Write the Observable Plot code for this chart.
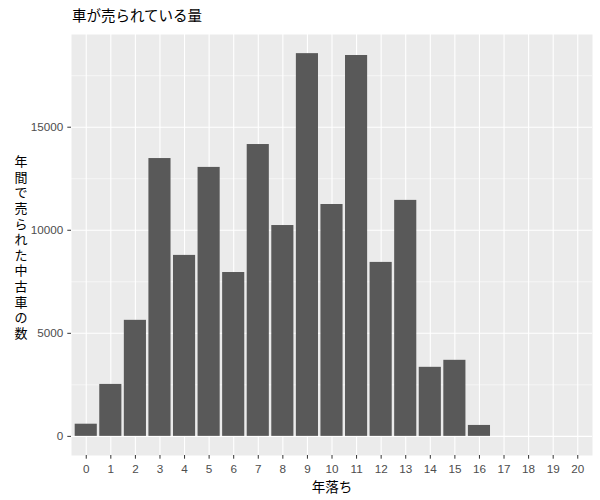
<!DOCTYPE html>
<html>
<head>
<meta charset="utf-8">
<script src="https://cdn.jsdelivr.net/npm/d3@7"></script>
<script src="https://cdn.jsdelivr.net/npm/@observablehq/plot@0.6"></script>
<style>
  body { margin: 0; background: #fff; }
  #title { height: 28px; box-sizing: border-box; padding: 6px 0 0 72px; font: 14.5px "Noto Sans CJK JP", sans-serif; line-height: 18px; color: #000; }
</style>
</head>
<body>
<div id="title"></div>
<div id="chart"></div>
<script>
const titleText = "車が売られている量";
const xLabel = "年落ち";
const yLabel = "年\n間\nで\n売\nら\nれ\nた\n中\n古\n車\nの\n数";
const ages = [0,1,2,3,4,5,6,7,8,9,10,11,12,13,14,15,16,17,18,19,20];
const counts = [590,2520,5630,13480,8780,13050,7950,14160,10230,18570,11250,18480,8440,11450,3350,3690,530,0,0,0,0];
const yMajor = [0,5000,10000,15000];
const yMinor = [2500,7500,12500,17500];

document.getElementById("title").textContent = titleText;

const data = ages.map((a, i) => ({age: a, count: counts[i]}));
const maxV = d3.max(counts);
const jp = "'Noto Sans CJK JP', sans-serif";

const chart = Plot.plot({
  width: 600,
  height: 472,
  marginTop: 6,
  marginBottom: 45,
  marginLeft: 71,
  marginRight: 8,
  style: {fontFamily: "'Liberation Sans', Arial, sans-serif", background: "#fff"},
  x: {type: "band", domain: ages, paddingInner: 0.1, paddingOuter: 0.15, round: false},
  y: {domain: [-0.05 * maxV, 1.05 * maxV]},
  marks: [
    Plot.frame({fill: "#EBEBEB", stroke: null}),
    Plot.gridY(yMinor, {stroke: "#fff", strokeOpacity: 1, strokeWidth: 0.55}),
    Plot.gridY(yMajor, {stroke: "#fff", strokeOpacity: 1, strokeWidth: 1.1}),
    Plot.gridX(ages, {stroke: "#fff", strokeOpacity: 1, strokeWidth: 1.1}),
    Plot.barY(data, {x: "age", y: "count", fill: "#595959"}),
    Plot.axisY(yMajor, {tickSize: 3.7, tickPadding: 4.5, fontSize: 11.7, stroke: "#333", fill: "#4D4D4D", label: null, tickFormat: d => String(d)}),
    Plot.axisX(ages, {tickSize: 3.7, tickPadding: 5.5, fontSize: 11.7, stroke: "#333", fill: "#4D4D4D", label: null}),
    Plot.text([xLabel], {frameAnchor: "bottom", dy: 36, fontSize: 13.5, fill: "#000", fontFamily: jp}),
    Plot.text([yLabel], {frameAnchor: "left", dx: -57, dy: 2, fontSize: 13, lineHeight: 1.2, fill: "#000", fontFamily: jp})
  ]
});
document.getElementById("chart").appendChild(chart);
</script>
</body>
</html>
